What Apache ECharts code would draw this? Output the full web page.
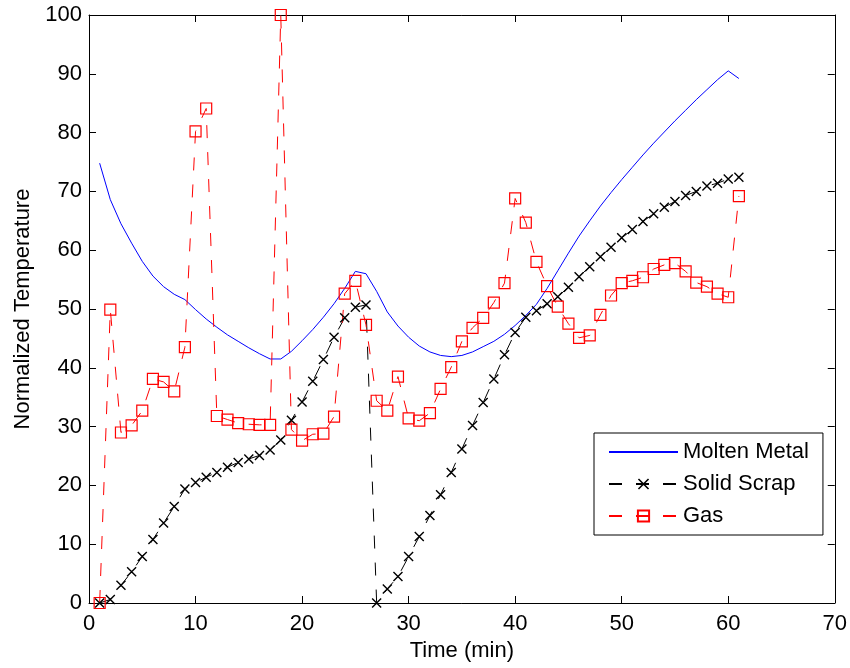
<!DOCTYPE html>
<html>
<head>
<meta charset="utf-8">
<script src="https://cdn.jsdelivr.net/npm/echarts@6/dist/echarts.min.js"></script>
<style>
  html, body { margin: 0; padding: 0; background: #fff; }
  #chart { width: 850px; height: 668px; }
</style>
</head>
<body>
<div id="chart"></div>
<script>
// Time (min)
var time = [1,2,3,4,5,6,7,8,9,10,11,12,13,14,15,16,17,18,19,20,21,22,23,24,25,26,27,28,29,30,
            31,32,33,34,35,36,37,38,39,40,41,42,43,44,45,46,47,48,49,50,51,52,53,54,55,56,57,58,59,60,61];

var moltenMetal = [74.8,68.6,64.5,61.2,58.1,55.6,53.8,52.5,51.6,49.9,48.3,46.9,45.6,44.5,43.4,42.4,41.5,41.5,42.8,44.6,
                   46.5,48.6,50.9,53.5,56.4,56.0,53.0,49.5,47.1,45.2,43.7,42.7,42.1,41.9,42.1,42.7,43.6,44.5,45.7,47.2,
                   48.9,50.8,53.5,56.5,59.5,62.4,65.0,67.5,69.8,72.0,74.1,76.2,78.2,80.1,82.0,83.8,85.6,87.3,89.0,90.5,89.2];

var solidScrap = [0,0.6,3.0,5.3,7.9,10.8,13.6,16.4,19.4,20.5,21.4,22.2,23.1,23.9,24.5,25.1,26.0,27.7,31.1,34.2,
                  37.7,41.4,45.2,48.5,50.3,50.7,0,2.4,4.5,7.9,11.3,14.9,18.4,22.2,26.2,30.2,34.1,38.1,42.2,46.0,
                  48.6,49.7,50.9,52.1,53.7,55.5,57.2,58.9,60.5,62.1,63.5,64.9,66.2,67.3,68.3,69.3,70.0,70.9,71.4,72.1,72.4];

var gas = [0,49.9,29.0,30.2,32.7,38.1,37.6,36.0,43.5,80.2,84.1,31.8,31.2,30.6,30.4,30.3,30.3,100,29.5,27.6,
           28.7,28.8,31.7,52.6,54.8,47.3,34.4,32.7,38.5,31.4,31.0,32.3,36.4,40.1,44.5,46.8,48.5,51.1,54.4,68.8,
           64.7,58.0,53.9,50.4,47.5,45.1,45.5,49.0,52.3,54.4,54.8,55.4,56.8,57.5,57.8,56.4,54.5,53.8,52.6,52.0,69.2];

var xTicks = { min: 0, max: 70, interval: 10 };
var yTicks = { min: 0, max: 100, interval: 10 };

function pairs(xs, ys) {
  var out = [];
  for (var i = 0; i < xs.length; i++) out.push([xs[i], ys[i]]);
  return out;
}

var FONT = "'Liberation Sans', Arial, Helvetica, sans-serif";
var FS = 22;

var crossPath = 'path://M0,1L1,0L10,9L9,10ZM9,0L10,1L1,10L0,9Z';

var chart = echarts.init(document.getElementById('chart'), null, { renderer: 'canvas' });

function axisCommon(extra) {
  var base = {
    type: 'value',
    axisLine: { show: true, onZero: false, lineStyle: { color: '#000', width: 1 } },
    axisTick: { show: true, inside: true, length: 7, lineStyle: { color: '#000', width: 1 } },
    splitLine: { show: false },
    axisLabel: { color: '#000', fontSize: FS, fontFamily: FONT }
  };
  for (var k in extra) base[k] = extra[k];
  return base;
}

chart.setOption({
  animation: false,
  backgroundColor: '#fff',
  grid: { left: 89, right: 15, top: 15, bottom: 65, containLabel: false },
  xAxis: [
    axisCommon({
      position: 'bottom', min: xTicks.min, max: xTicks.max, interval: xTicks.interval,
      name: 'Time (min)', nameLocation: 'middle', nameGap: 36,
      nameTextStyle: { color: '#000', fontSize: FS, fontFamily: FONT },
      axisLabel: { color: '#000', fontSize: FS, fontFamily: FONT, margin: 10 }
    }),
    axisCommon({
      position: 'top', min: xTicks.min, max: xTicks.max, interval: xTicks.interval,
      axisLabel: { show: false }
    })
  ],
  yAxis: [
    axisCommon({
      position: 'left', min: yTicks.min, max: yTicks.max, interval: yTicks.interval,
      name: 'Normalized Temperature', nameLocation: 'middle', nameGap: 54,
      nameTextStyle: { color: '#000', fontSize: FS, fontFamily: FONT },
      axisLabel: { color: '#000', fontSize: FS, fontFamily: FONT, margin: 7 }
    }),
    axisCommon({
      position: 'right', min: yTicks.min, max: yTicks.max, interval: yTicks.interval,
      axisLabel: { show: false }
    })
  ],
  legend: {
    orient: 'vertical',
    left: 594,
    top: 433,
    itemWidth: 69,
    itemHeight: 14,
    itemGap: 10,
    padding: [8, 14, 8, 14],
    borderColor: '#000',
    borderWidth: 1,
    backgroundColor: '#fff',
    selectedMode: false,
    textStyle: { color: '#000', fontSize: FS, fontFamily: FONT },
    data: [
      { name: 'Molten Metal', itemStyle: { color: 'rgba(0,0,0,0)', borderWidth: 0 } },
      { name: 'Solid Scrap' },
      { name: 'Gas' }
    ]
  },
  series: [
    {
      name: 'Molten Metal',
      type: 'line',
      xAxisIndex: 0, yAxisIndex: 0,
      data: pairs(time, moltenMetal),
      symbol: 'none',
      silent: true,
      color: '#0000ff',
      lineStyle: { color: '#0000ff', width: 1, type: 'solid' },
      itemStyle: { color: '#0000ff' }
    },
    {
      name: 'Solid Scrap',
      type: 'line',
      xAxisIndex: 0, yAxisIndex: 0,
      data: pairs(time, solidScrap),
      symbol: crossPath,
      symbolSize: 10,
      showSymbol: true,
      silent: true,
      color: '#000',
      lineStyle: { color: '#000', width: 1, type: [13, 14] },
      itemStyle: { color: '#000', borderWidth: 0 }
    },
    {
      name: 'Gas',
      type: 'line',
      xAxisIndex: 0, yAxisIndex: 0,
      data: pairs(time, gas),
      symbol: 'rect',
      symbolSize: 11,
      showSymbol: true,
      silent: true,
      color: '#ff0000',
      lineStyle: { color: '#ff0000', width: 1, type: [13, 14] },
      itemStyle: { color: 'rgba(255,255,255,0)', borderColor: '#ff0000', borderWidth: 1.2 }
    }
  ]
});
</script>
</body>
</html>
